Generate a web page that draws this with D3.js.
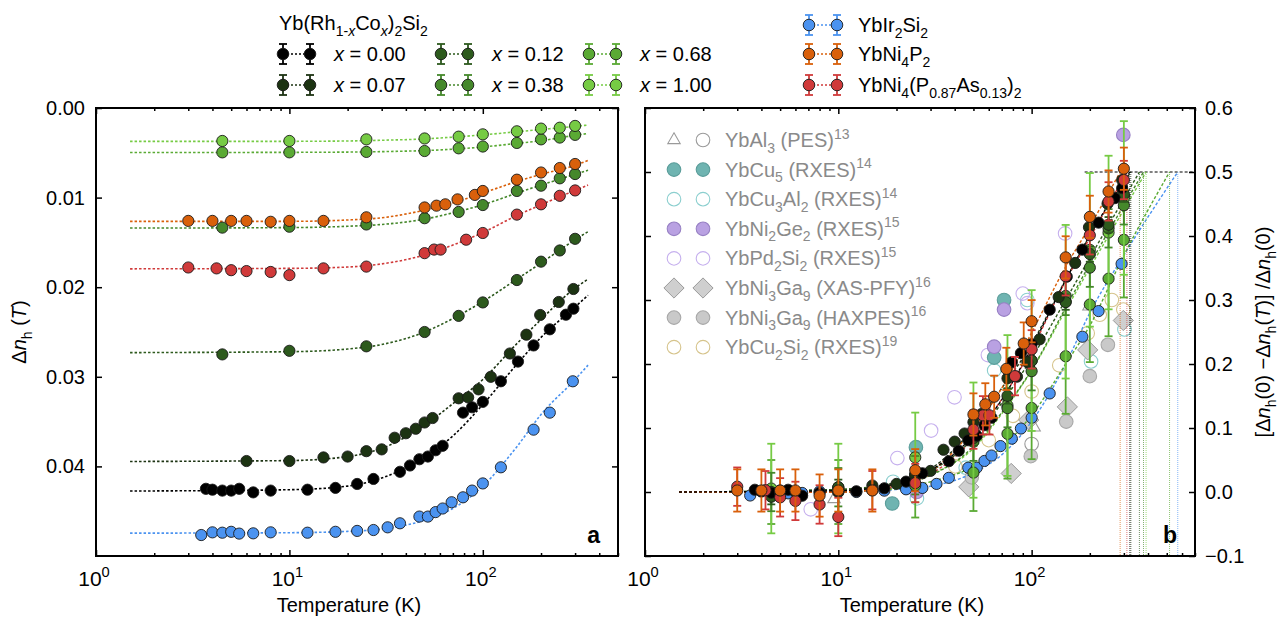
<!DOCTYPE html>
<html><head><meta charset="utf-8">
<script src="https://cdn.jsdelivr.net/npm/d3@7"></script>
<style>body{margin:0;background:#fff}</style>
</head><body>
<svg id="c" width="1279" height="618"></svg>
<script>
// ---------------- DATA (Δn_h values in units of 1e-3) ----------------
const xTickLabels = ["0", "1", "2"];            // exponents of 10^k
const yTickA = [0, 10, 20, 30, 40];
const yTickALabels = ["0.00", "0.01", "0.02", "0.03", "0.04"];
const yTickB = [-0.1, 0, 0.1, 0.2, 0.3, 0.4, 0.5, 0.6];
const yTickBLabels = ["\u22120.1", "0.0", "0.1", "0.2", "0.3", "0.4", "0.5", "0.6"];

const T_rhco = [4.5, 10, 25, 50, 75, 100, 150, 200, 250, 300];
const dn_x100 = [3.68, 3.68, 3.5, 3.4, 3.2, 2.94, 2.6, 2.3, 2.2, 2.0];
const dn_x068 = [4.95, 4.95, 4.9, 4.8, 4.5, 4.3, 3.9, 3.5, 3.3, 3.0];
const dn_x038 = [13.35, 13.25, 13.0, 12.3, 11.6, 10.83, 9.26, 8.67, 7.85, 7.37];
const dn_x012 = [27.5, 27.1, 26.6, 25.0, 23.2, 21.7, 19.2, 17.15, 15.9, 14.6];

const T_x007 = [6, 10, 15, 20, 25, 30, 35, 40, 45, 50, 55, 75, 84, 95, 110, 138, 168, 198, 247, 294];
const dn_x007 = [39.4, 39.4, 39.0, 38.9, 38.3, 38.1, 36.8, 36.3, 35.8, 35.1, 34.6, 32.4, 32.3, 31.4, 30.0, 27.4, 25.3, 23.1, 21.65, 20.2];

const T_x000 = [3.7, 4.0, 4.5, 5.0, 5.5, 6.5, 8, 12.4, 17.3, 22.4, 27.2, 37.3, 42, 47, 52, 57, 62, 79, 88, 100, 124, 152, 183, 222, 269, 294];
const dn_x000 = [42.5, 42.6, 42.7, 42.7, 42.5, 42.9, 42.7, 42.6, 42.4, 41.96, 41.4, 40.6, 39.9, 39.2, 38.9, 38.2, 37.7, 34.0, 33.4, 32.8, 30.5, 28.3, 26.5, 24.7, 23.07, 22.4];

const T_ir = [3.5, 4.0, 4.5, 5.0, 5.5, 6.5, 8, 12.4, 17.3, 22.4, 27.2, 32.2, 37.3, 47, 52, 57, 62, 69, 79, 88, 100, 124, 183, 222, 292];
const dn_ir = [47.66, 47.36, 47.4, 47.3, 47.5, 47.47, 47.36, 47.4, 47.3, 47.2, 47.1, 46.8, 46.35, 45.6, 45.6, 45.1, 44.7, 44.0, 43.45, 42.7, 41.9, 40.1, 35.9, 34.0, 30.5];

const T_ni4p2 = [3, 4, 5, 6, 8, 10, 15, 25, 50, 57.6, 64, 74, 91, 100, 150, 200, 250, 300];
const dn_ni4p2 = [12.6, 12.6, 12.6, 12.6, 12.7, 12.6, 12.6, 12.2, 11.1, 10.9, 10.75, 10.2, 9.7, 9.26, 8.0, 7.2, 6.7, 6.25];

const T_ni4pas = [3, 4.2, 5, 6, 8, 10, 15, 25, 50, 56, 60.5, 82, 100, 150, 200, 250, 300];
const dn_ni4pas = [17.8, 17.9, 18.1, 18.2, 18.3, 18.65, 17.9, 17.7, 16.2, 15.8, 15.8, 14.7, 13.95, 11.9, 10.75, 9.8, 9.2];

// zero-temperature values Δn_h(0) (read from the flat low-T fit level)
const dn0 = {x000: 42.65, x007: 39.4, x012: 27.3, x038: 13.35, x068: 4.95, x100: 3.7, ir: 47.4, ni4p2: 12.63, ni4pas: 17.95};

// error bars of the normalised quantity in panel b (per series, or per point)
const errB = {x000: 0.004, x007: 0.005, x012: 0.012, x038: 0.03, ir: 0.004, ni4p2: 0.033, ni4pas: 0.03,
  x068: [0.05, 0.05, 0.05, 0.06, 0.07, 0.08, 0.09, 0.09, 0.09, 0.09],
  x100: [0.07, 0.07, 0.07, 0.09, 0.11, 0.11, 0.12, 0.12, 0.12, 0.12]};

// fit curves, panel a
const fitA_T = [1.5, 10, 20, 30, 50, 70, 100, 150, 200, 300, 350];
const fitA = {
  x100: [3.72, 3.72, 3.68, 3.6, 3.45, 3.25, 3.0, 2.65, 2.4, 2.05, 1.9],
  x068: [4.97, 4.95, 4.92, 4.87, 4.75, 4.6, 4.35, 3.95, 3.65, 3.05, 2.85],
  ni4p2: [12.65, 12.65, 12.5, 12.25, 11.4, 10.6, 9.5, 8.2, 7.4, 6.4, 5.85],
  x038: [13.4, 13.35, 13.2, 13.0, 12.4, 11.7, 10.8, 9.5, 8.6, 7.4, 6.95],
  ni4pas: [17.95, 17.9, 17.75, 17.4, 16.4, 15.3, 13.9, 12.0, 10.8, 9.2, 8.6],
  x012: [27.3, 27.2, 26.9, 26.4, 25.0, 23.5, 21.6, 19.1, 17.3, 14.7, 13.8],
  x007: [39.45, 39.35, 38.9, 38.0, 35.4, 33.0, 30.3, 26.3, 23.6, 20.1, 19.1],
  x000: [42.75, 42.6, 42.2, 41.3, 39.0, 36.6, 33.1, 28.6, 25.6, 22.2, 20.9],
  ir: [47.45, 47.4, 47.25, 47.0, 46.0, 44.7, 42.2, 37.8, 34.2, 30.3, 28.7]
};

// fit curves, panel b (normalised, ending where they reach 0.5); drawn in this order
const fitB = {
  ir:     {T: [1.5, 10, 20, 30, 50, 70, 100, 150, 200, 300, 570], v: [0, 0, 0.004, 0.009, 0.03, 0.058, 0.11, 0.2, 0.28, 0.37, 0.5]},
  x068:   {T: [1.5, 10, 20, 30, 50, 70, 100, 150, 200, 300, 517], v: [0, 0, 0.006, 0.016, 0.04, 0.07, 0.12, 0.2, 0.26, 0.37, 0.5]},
  x100:   {T: [1.5, 10, 20, 30, 50, 70, 100, 150, 200, 391], v: [0, 0, 0.005, 0.027, 0.068, 0.122, 0.19, 0.284, 0.35, 0.5]},
  x038:   {T: [1.5, 10, 20, 30, 50, 70, 100, 150, 200, 379], v: [0, 0.004, 0.011, 0.026, 0.071, 0.124, 0.191, 0.288, 0.356, 0.5]},
  x012:   {T: [1.5, 10, 20, 30, 50, 70, 100, 150, 200, 361], v: [0, 0.004, 0.015, 0.033, 0.084, 0.139, 0.209, 0.30, 0.366, 0.5]},
  x007:   {T: [1.5, 10, 20, 30, 50, 70, 100, 150, 200, 326], v: [0, 0.002, 0.013, 0.036, 0.10, 0.162, 0.231, 0.332, 0.40, 0.5]},
  ni4pas: {T: [1.5, 10, 20, 30, 50, 70, 100, 150, 200, 311], v: [0, 0, 0.008, 0.028, 0.084, 0.145, 0.223, 0.33, 0.397, 0.5]},
  ni4p2:  {T: [1.5, 10, 20, 30, 50, 70, 100, 150, 200, 287], v: [0, 0, 0.012, 0.032, 0.099, 0.162, 0.249, 0.352, 0.415, 0.5]},
  x000:   {T: [1.5, 10, 20, 30, 50, 70, 100, 150, 200, 322], v: [0, 0.002, 0.013, 0.034, 0.088, 0.144, 0.226, 0.331, 0.401, 0.5]}
};
const halfLineT = [188, 700];

// literature data, panel b
const lit_al3_tri_T = [9.5, 103, 198];
const lit_al3_tri_v = [-0.011, 0.101, 0.29];
const lit_al3_cir_T = [100];
const lit_al3_cir_v = [0.075];
const lit_cu5_T = [19, 25.2, 64, 72];
const lit_cu5_v = [-0.018, 0.07, 0.21, 0.30];
const lit_cu3al2_T = [19.2, 25.5, 45.6, 64, 95, 203, 302];
const lit_cu3al2_v = [0.016, -0.01, 0.038, 0.19, 0.30, 0.204, 0.254];
const lit_ni2ge2_T = [25.4, 64, 72, 298];
const lit_ni2ge2_v = [0.0, 0.227, 0.285, 0.558];
const lit_pd2si2_T = [7.2, 20.2, 30.2, 39.9, 59.4, 90, 95, 149];
const lit_pd2si2_v = [-0.027, 0.053, 0.096, 0.148, 0.214, 0.31, 0.295, 0.404];
const lit_ga9xas_T = [47.3, 78.4, 96.6, 153, 195, 298];
const lit_ga9xas_v = [0.008, 0.029, 0.1125, 0.133, 0.222, 0.268];
const lit_ga9hax_T = [49, 99, 151, 200, 248];
const lit_ga9hax_v = [0.023, 0.056, 0.11, 0.181, 0.23];
const lit_cu2si2_T = [40.3, 60, 80, 100, 139, 195, 225, 260, 298];
const lit_cu2si2_v = [0.04, 0.081, 0.119, 0.157, 0.198, 0.248, 0.277, 0.30, 0.285];

// ---------------- STYLE ----------------
const FONT = '"Liberation Sans", Arial, Helvetica, sans-serif';
const COL = {x000: '#000000', x007: '#1c3312', x012: '#2d5a1d', x038: '#45882b', x068: '#5aaa34', x100: '#76cb44',
             ir: '#4b93f0', ni4p2: '#d9600b', ni4pas: '#d03a3a'};

const series = [
  {k: 'ir', T: T_ir, v: dn_ir},
  {k: 'x068', T: T_rhco, v: dn_x068},
  {k: 'x100', T: T_rhco, v: dn_x100},
  {k: 'x038', T: T_rhco, v: dn_x038},
  {k: 'x012', T: T_rhco, v: dn_x012},
  {k: 'x007', T: T_x007, v: dn_x007},
  {k: 'x000', T: T_x000, v: dn_x000},
  {k: 'ni4pas', T: T_ni4pas, v: dn_ni4pas},
  {k: 'ni4p2', T: T_ni4p2, v: dn_ni4p2}
];

const svg = d3.select('#c');

function rich(parent, x, y, parts, o = {}) {
  const size = o.size || 20;
  const t = parent.append('text').attr('x', x).attr('y', y)
    .attr('font-size', size).attr('fill', o.fill || '#000')
    .attr('text-anchor', o.anchor || 'start').attr('font-family', FONT);
  if (o.weight) t.attr('font-weight', o.weight);
  if (o.transform) t.attr('transform', o.transform);
  let cur = 0;
  parts.forEach(p => {
    const s = p.sub ? size * 0.28 : p.sup ? -size * 0.42 : 0;
    const ts = t.append('tspan').attr('dy', s - cur).text(p.t);
    if (p.sub || p.sup) ts.attr('font-size', size * 0.7);
    if (p.it) ts.attr('font-style', 'italic');
    cur = s;
  });
  return t;
}

// ---------------- SCALES ----------------
const A = {l: 96, r: 618, t: 108, b: 556};
const B = {l: 645, r: 1195, t: 108, b: 556};
const xA = d3.scaleLog().domain([1, 500]).range([A.l, A.r]);
const xB = d3.scaleLog().domain([1, 700]).range([B.l, B.r]);
const yA = d3.scaleLinear().domain([0, 50]).range([A.t, A.b]);
const yB = d3.scaleLinear().domain([-0.1, 0.6]).range([B.b, B.t]);

const defs = svg.append('defs');
defs.append('clipPath').attr('id', 'clipA').append('rect').attr('x', A.l).attr('y', A.t).attr('width', A.r - A.l).attr('height', A.b - A.t);
defs.append('clipPath').attr('id', 'clipB').append('rect').attr('x', B.l).attr('y', B.t).attr('width', B.r - B.l).attr('height', B.b - B.t);

function frameAndTicks(P, x, y, yt, ylabels, labelSide) {
  const g = svg.append('g');
  const dmax = x.domain()[1];
  const xt = [];
  for (let d = 1; d <= 1000; d *= 10) for (let m = 1; m <= 9; m++) { const T = d * m; if (T <= dmax * 1.0001) xt.push({T, major: m === 1}); }
  const axB = d3.axisBottom(x).tickValues(xt.filter(t => t.major).map(t => t.T)).tickSize(-6).tickFormat('');
  const axBm = d3.axisBottom(x).tickValues(xt.filter(t => !t.major).map(t => t.T)).tickSize(-3).tickFormat('');
  const axT = d3.axisTop(x).tickValues(xt.filter(t => t.major).map(t => t.T)).tickSize(-6).tickFormat('');
  const axTm = d3.axisTop(x).tickValues(xt.filter(t => !t.major).map(t => t.T)).tickSize(-3).tickFormat('');
  [[axB, P.b], [axBm, P.b], [axT, P.t], [axTm, P.t]].forEach(([ax, yy]) => {
    const a = g.append('g').attr('transform', `translate(0,${yy})`).call(ax);
    a.select('.domain').remove();
    a.selectAll('line').attr('stroke', '#000').attr('stroke-width', 1.5);
  });
  const axL = d3.axisLeft(y).tickValues(yt).tickSize(-6).tickFormat('');
  const axR = d3.axisRight(y).tickValues(yt).tickSize(-6).tickFormat('');
  [[axL, P.l], [axR, P.r]].forEach(([ax, xx]) => {
    const a = g.append('g').attr('transform', `translate(${xx},0)`).call(ax);
    a.select('.domain').remove();
    a.selectAll('line').attr('stroke', '#000').attr('stroke-width', 1.5);
  });
  g.append('rect').attr('x', P.l).attr('y', P.t).attr('width', P.r - P.l).attr('height', P.b - P.t)
    .attr('fill', 'none').attr('stroke', '#000').attr('stroke-width', 2);
  xTickLabels.forEach(k => {
    rich(g, x(Math.pow(10, +k)) - 2, P.b + 30, [{t: '10'}, {t: k, sup: 1}], {anchor: 'middle', size: 21});
  });
  yt.forEach((v, i) => {
    if (labelSide === 'left') {
      g.append('text').attr('x', P.l - 11).attr('y', y(v) + 7).attr('text-anchor', 'end')
        .attr('font-family', FONT).attr('font-size', 20).text(ylabels[i]);
    } else {
      g.append('text').attr('x', P.r + 10).attr('y', y(v) + 7).attr('text-anchor', 'start')
        .attr('font-family', FONT).attr('font-size', 20).text(ylabels[i]);
    }
  });
  g.append('text').attr('x', (P.l + P.r) / 2 - 8).attr('y', 612).attr('text-anchor', 'middle')
    .attr('font-family', FONT).attr('font-size', 20).text('Temperature (K)');
  return g;
}

frameAndTicks(A, xA, yA, yTickA, yTickALabels, 'left');
frameAndTicks(B, xB, yB, yTickB, yTickBLabels, 'right');

// axis titles
rich(svg, 0, 0, [{t: '\u0394'}, {t: 'n', it: 1}, {t: 'h', sub: 1}, {t: ' ('}, {t: 'T', it: 1}, {t: ')'}],
  {anchor: 'middle', size: 20, transform: 'translate(26,332) rotate(-90)'});
rich(svg, 0, 0, [{t: '[\u0394'}, {t: 'n', it: 1}, {t: 'h', sub: 1}, {t: '(0) \u2212\u0394'}, {t: 'n', it: 1}, {t: 'h', sub: 1},
  {t: '('}, {t: 'T', it: 1}, {t: ')] /\u0394'}, {t: 'n', it: 1}, {t: 'h', sub: 1}, {t: '(0)'}],
  {anchor: 'middle', size: 20, transform: 'translate(1270,332) rotate(-90)'});

// panel letters
svg.append('text').attr('x', A.r - 18).attr('y', 543).attr('text-anchor', 'end').attr('font-family', FONT)
  .attr('font-weight', 'bold').attr('font-size', 23).text('a');
svg.append('text').attr('x', B.r - 18).attr('y', 543).attr('text-anchor', 'end').attr('font-family', FONT)
  .attr('font-weight', 'bold').attr('font-size', 23).text('b');

// ---------------- PANEL A ----------------
const gA = svg.append('g').attr('clip-path', 'url(#clipA)');
const lineA = d3.line().x(d => xA(d[0])).y(d => yA(d[1])).curve(d3.curveMonotoneX);
Object.keys(fitA).forEach(k => {
  gA.append('path').attr('d', lineA(fitA_T.map((T, i) => [T, fitA[k][i]])))
    .attr('fill', 'none').attr('stroke', COL[k]).attr('stroke-width', 1.6).attr('stroke-dasharray', '2.5,2');
});
series.forEach(s => {
  gA.selectAll(null).data(s.T.map((T, i) => [T, s.v[i]])).enter().append('circle')
    .attr('cx', d => xA(d[0])).attr('cy', d => yA(d[1])).attr('r', 5.6)
    .attr('fill', COL[s.k]).attr('stroke', '#1a1a1a').attr('stroke-width', 0.9);
});

// ---------------- PANEL B ----------------
const gB = svg.append('g').attr('clip-path', 'url(#clipB)');
function litCircles(T, v, fill, stroke, r = 6.8) {
  gB.selectAll(null).data(T.map((t, i) => [t, v[i]])).enter().append('circle')
    .attr('cx', d => xB(d[0])).attr('cy', d => yB(d[1])).attr('r', r)
    .attr('fill', fill).attr('stroke', stroke).attr('stroke-width', 1.1);
}
const sym = (type, size) => d3.symbol().type(type).size(size)();
litCircles(lit_cu3al2_T, lit_cu3al2_v, 'none', '#8ccfcf');
litCircles(lit_pd2si2_T, lit_pd2si2_v, 'none', '#c6b0ee');
litCircles(lit_cu2si2_T, lit_cu2si2_v, 'none', '#d6c48c');
litCircles(lit_al3_cir_T, lit_al3_cir_v, '#fff', '#9a9a9a');
gB.selectAll(null).data(lit_ga9xas_T.map((t, i) => [t, lit_ga9xas_v[i]])).enter().append('path')
  .attr('d', sym(d3.symbolDiamond2, 260)).attr('transform', d => `translate(${xB(d[0])},${yB(d[1])})`)
  .attr('fill', '#cfcfcf').attr('stroke', '#9a9a9a').attr('stroke-width', 1);
litCircles(lit_ga9hax_T, lit_ga9hax_v, '#c9c9c9', '#a8a8a8');
gB.selectAll(null).data(lit_al3_tri_T.map((t, i) => [t, lit_al3_tri_v[i]])).enter().append('path')
  .attr('d', sym(d3.symbolTriangle2, 110)).attr('transform', d => `translate(${xB(d[0])},${yB(d[1])})`)
  .attr('fill', 'none').attr('stroke', '#9a9a9a').attr('stroke-width', 1.1);
litCircles(lit_cu5_T, lit_cu5_v, '#6fb4b1', '#5b9d9a');
litCircles(lit_ni2ge2_T, lit_ni2ge2_v, '#b9a1e2', '#9780c4');

gB.append('line').attr('x1', xB(halfLineT[0])).attr('x2', xB(halfLineT[1])).attr('y1', yB(0.5)).attr('y2', yB(0.5))
  .attr('stroke', '#000').attr('stroke-width', 1).attr('stroke-dasharray', '3,2');

const lineB = d3.line().x(d => xB(d[0])).y(d => yB(d[1])).curve(d3.curveMonotoneX);
Object.keys(fitB).forEach(k => {
  const f = fitB[k];
  gB.append('path').attr('d', lineB(f.T.map((T, i) => [T, f.v[i]])))
    .attr('fill', 'none').attr('stroke', COL[k]).attr('stroke-width', 1.4).attr('stroke-dasharray', '3,2');
  const Th = f.T[f.T.length - 1];
  gB.append('line').attr('x1', xB(Th)).attr('x2', xB(Th)).attr('y1', yB(0.5)).attr('y2', yB(-0.1))
    .attr('stroke', COL[k]).attr('stroke-width', 0.9).attr('stroke-dasharray', '1,1').attr('opacity', 0.75);
});

series.forEach(s => {
  const pts = s.T.map((T, i) => [T, (dn0[s.k] - s.v[i]) / dn0[s.k]]);
  const eS = errB[s.k];
  const g = gB.append('g');
  pts.forEach((d, i) => {
    const e = Array.isArray(eS) ? eS[i] : eS;
    if (e <= 0.006) return;
    const x = xB(d[0]);
    g.append('line').attr('x1', x).attr('x2', x).attr('y1', yB(d[1] - e)).attr('y2', yB(d[1] + e))
      .attr('stroke', COL[s.k]).attr('stroke-width', 1.8);
    [d[1] - e, d[1] + e].forEach(yy => g.append('line').attr('x1', x - 4).attr('x2', x + 4)
      .attr('y1', yB(yy)).attr('y2', yB(yy)).attr('stroke', COL[s.k]).attr('stroke-width', 1.8));
  });
  g.selectAll(null).data(pts).enter().append('circle')
    .attr('cx', d => xB(d[0])).attr('cy', d => yB(d[1])).attr('r', 5.6)
    .attr('fill', COL[s.k]).attr('stroke', '#1a1a1a').attr('stroke-width', 0.9);
});

// ---------------- LEGENDS ----------------
function legendMarker(g, x1, x2, y, color) {
  g.append('line').attr('x1', x1).attr('x2', x2).attr('y1', y).attr('y2', y)
    .attr('stroke', color).attr('stroke-width', 1.5).attr('stroke-dasharray', '2,2');
  [x1, x2].forEach(x => {
    g.append('line').attr('x1', x).attr('x2', x).attr('y1', y - 10).attr('y2', y + 10).attr('stroke', color).attr('stroke-width', 1.8);
    [y - 10, y + 10].forEach(yy => g.append('line').attr('x1', x - 4).attr('x2', x + 4).attr('y1', yy).attr('y2', yy)
      .attr('stroke', color).attr('stroke-width', 1.8));
    g.append('circle').attr('cx', x).attr('cy', y).attr('r', 5.8).attr('fill', color).attr('stroke', '#1a1a1a').attr('stroke-width', 0.9);
  });
}
const gL = svg.append('g');
rich(gL, 279, 30, [{t: 'Yb(Rh'}, {t: '1-', sub: 1}, {t: 'x', sub: 1, it: 1}, {t: 'Co'}, {t: 'x', sub: 1, it: 1}, {t: ')'}, {t: '2', sub: 1}, {t: 'Si'}, {t: '2', sub: 1}]);
const legRh = [
  {k: 'x000', label: '0.00', x: 283, y: 54}, {k: 'x007', label: '0.07', x: 283, y: 85},
  {k: 'x012', label: '0.12', x: 441, y: 54}, {k: 'x038', label: '0.38', x: 441, y: 85},
  {k: 'x068', label: '0.68', x: 589, y: 54}, {k: 'x100', label: '1.00', x: 589, y: 85}
];
legRh.forEach(L => {
  legendMarker(gL, L.x, L.x + 27, L.y, COL[L.k]);
  rich(gL, L.x + 51, L.y + 7, [{t: 'x', it: 1}, {t: ' = ' + L.label}]);
});
const legOther = [
  {k: 'ir', y: 25, parts: [{t: 'YbIr'}, {t: '2', sub: 1}, {t: 'Si'}, {t: '2', sub: 1}]},
  {k: 'ni4p2', y: 54, parts: [{t: 'YbNi'}, {t: '4', sub: 1}, {t: 'P'}, {t: '2', sub: 1}]},
  {k: 'ni4pas', y: 85, parts: [{t: 'YbNi'}, {t: '4', sub: 1}, {t: '(P'}, {t: '0.87', sub: 1}, {t: 'As'}, {t: '0.13', sub: 1}, {t: ')'}, {t: '2', sub: 1}]}
];
legOther.forEach(L => {
  legendMarker(gL, 809, 837, L.y, COL[L.k]);
  rich(gL, 858, L.y + 7, L.parts);
});

const litLeg = [
  {m1: 'tri', m2: 'oc', fill: 'none', stroke: '#9a9a9a', parts: [{t: 'YbAl'}, {t: '3', sub: 1}, {t: ' (PES)'}, {t: '13', sup: 1}]},
  {m1: 'c', m2: 'c', fill: '#6fb4b1', stroke: '#5b9d9a', parts: [{t: 'YbCu'}, {t: '5', sub: 1}, {t: ' (RXES)'}, {t: '14', sup: 1}]},
  {m1: 'c', m2: 'c', fill: 'none', stroke: '#8ccfcf', parts: [{t: 'YbCu'}, {t: '3', sub: 1}, {t: 'Al'}, {t: '2', sub: 1}, {t: ' (RXES)'}, {t: '14', sup: 1}]},
  {m1: 'c', m2: 'c', fill: '#b9a1e2', stroke: '#9780c4', parts: [{t: 'YbNi'}, {t: '2', sub: 1}, {t: 'Ge'}, {t: '2', sub: 1}, {t: ' (RXES)'}, {t: '15', sup: 1}]},
  {m1: 'c', m2: 'c', fill: 'none', stroke: '#c6b0ee', parts: [{t: 'YbPd'}, {t: '2', sub: 1}, {t: 'Si'}, {t: '2', sub: 1}, {t: ' (RXES)'}, {t: '15', sup: 1}]},
  {m1: 'd', m2: 'd', fill: '#cfcfcf', stroke: '#9a9a9a', parts: [{t: 'YbNi'}, {t: '3', sub: 1}, {t: 'Ga'}, {t: '9', sub: 1}, {t: ' (XAS-PFY)'}, {t: '16', sup: 1}]},
  {m1: 'c', m2: 'c', fill: '#c9c9c9', stroke: '#a8a8a8', parts: [{t: 'YbNi'}, {t: '3', sub: 1}, {t: 'Ga'}, {t: '9', sub: 1}, {t: ' (HAXPES)'}, {t: '16', sup: 1}]},
  {m1: 'c', m2: 'c', fill: 'none', stroke: '#d6c48c', parts: [{t: 'YbCu'}, {t: '2', sub: 1}, {t: 'Si'}, {t: '2', sub: 1}, {t: ' (RXES)'}, {t: '19', sup: 1}]}
];
litLeg.forEach((L, i) => {
  const y = 140 + i * 29.6;
  [[674, L.m1], [703, L.m2]].forEach(([x, m]) => {
    if (m === 'tri') gL.append('path').attr('d', sym(d3.symbolTriangle2, 110)).attr('transform', `translate(${x},${y})`)
      .attr('fill', 'none').attr('stroke', L.stroke).attr('stroke-width', 1.1);
    else if (m === 'd') gL.append('path').attr('d', sym(d3.symbolDiamond2, 260)).attr('transform', `translate(${x},${y})`)
      .attr('fill', L.fill).attr('stroke', L.stroke).attr('stroke-width', 1);
    else gL.append('circle').attr('cx', x).attr('cy', y).attr('r', 6.8)
      .attr('fill', m === 'oc' ? 'none' : L.fill).attr('stroke', L.stroke).attr('stroke-width', 1.1);
  });
  rich(gL, 725, y + 7, L.parts, {fill: '#8a8a8a'});
});
</script>
</body></html>
